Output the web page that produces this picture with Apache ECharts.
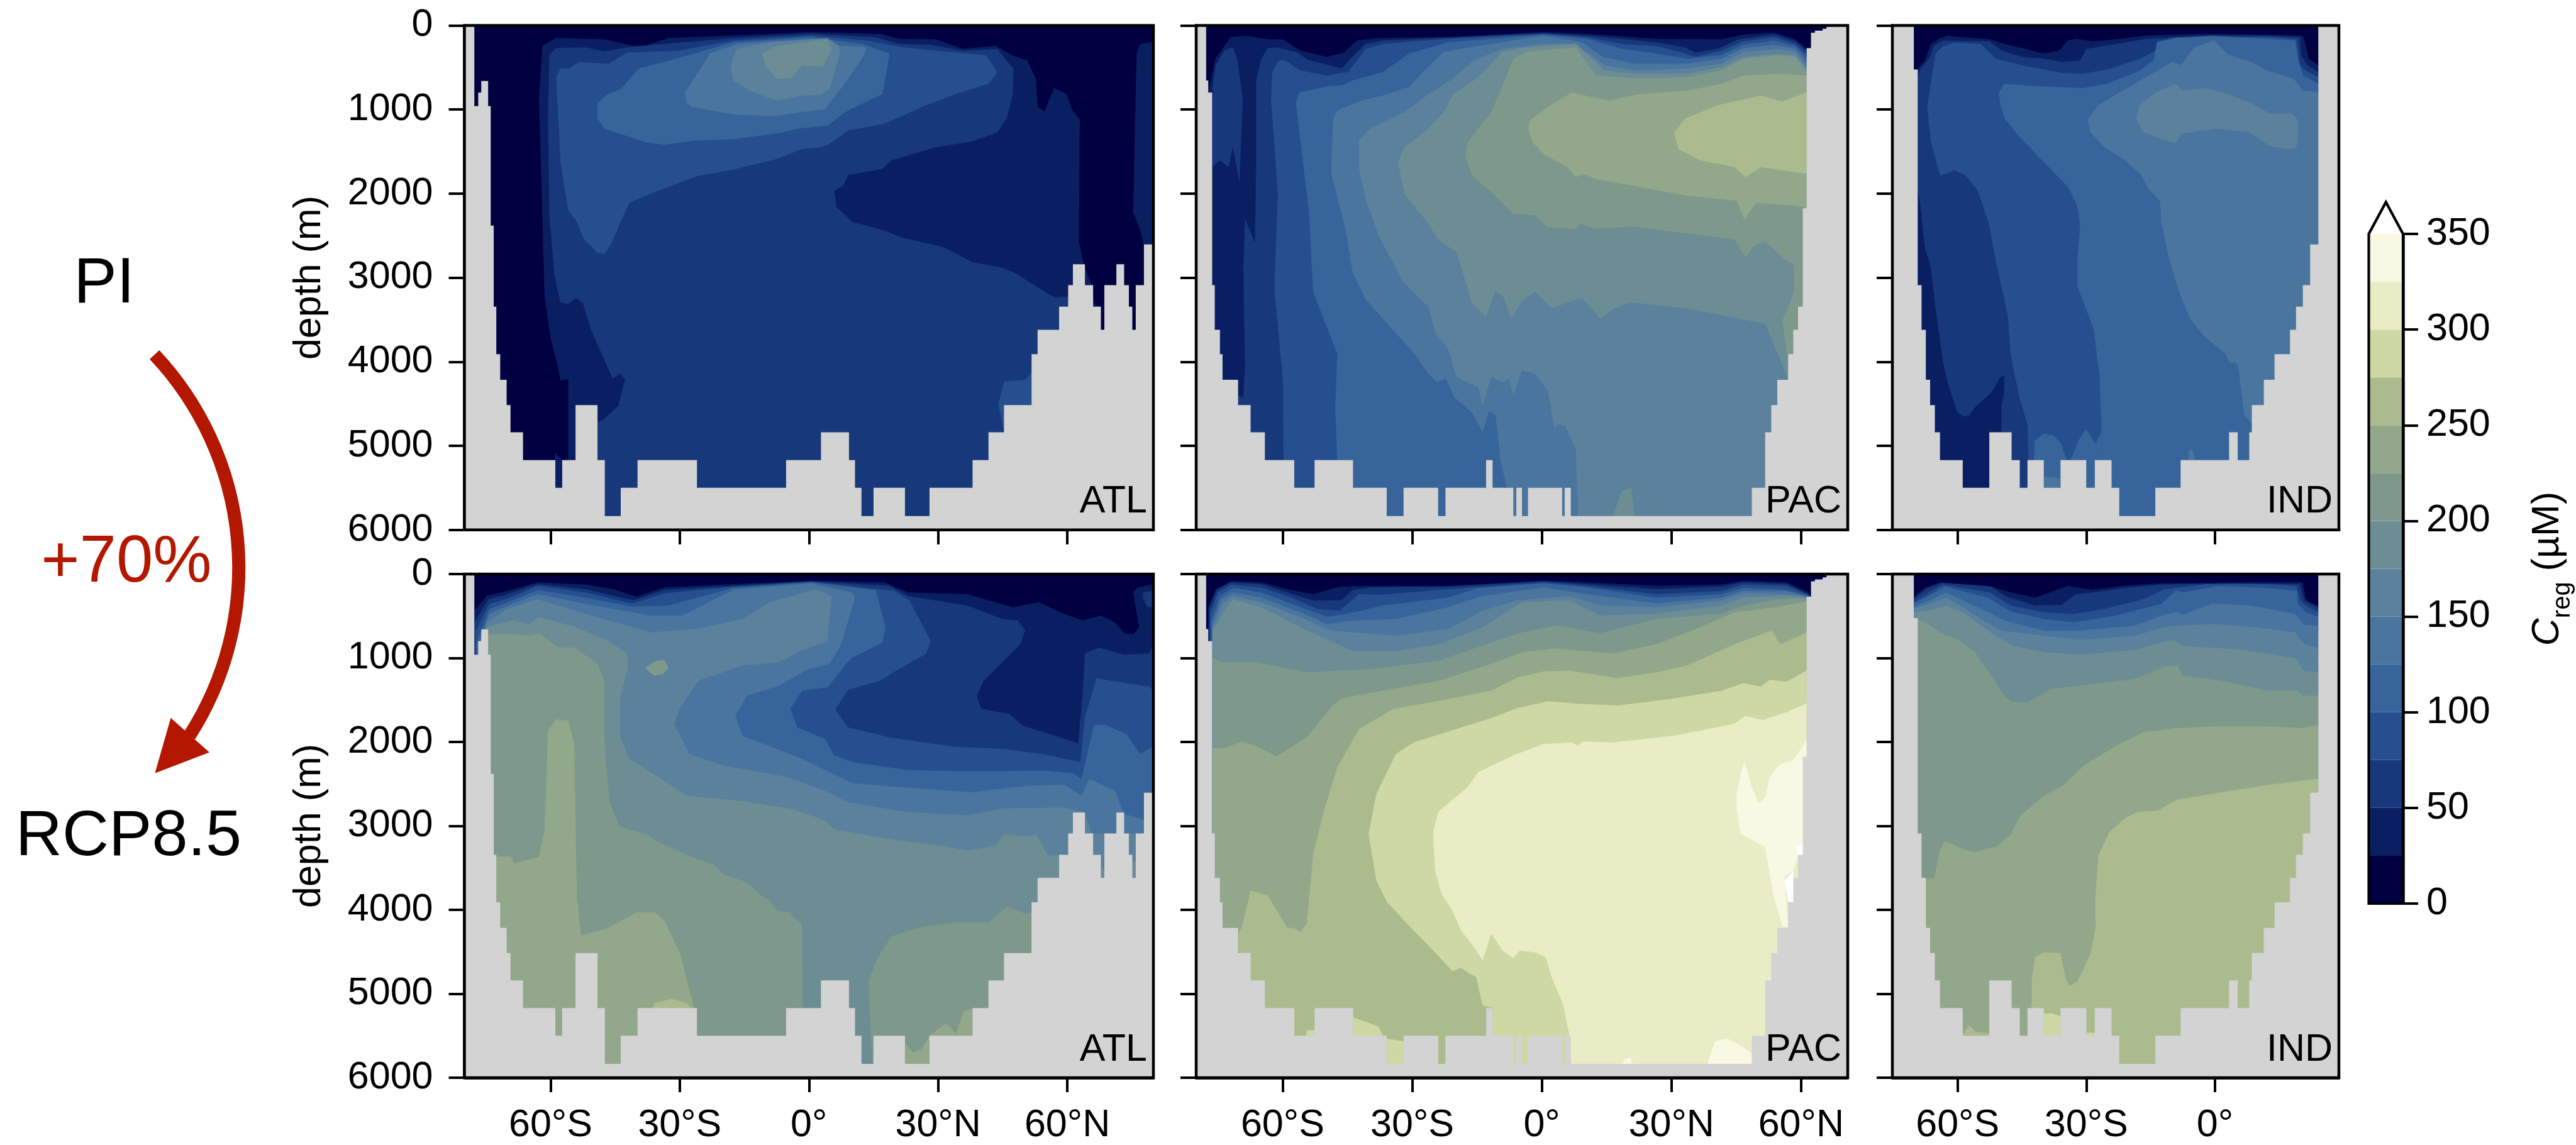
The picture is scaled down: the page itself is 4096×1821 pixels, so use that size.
<!DOCTYPE html>
<html><head><meta charset="utf-8">
<style>html,body{margin:0;padding:0;background:#fff}#c{width:4096px;height:1821px}</style>
<script src="https://cdn.jsdelivr.net/npm/echarts@6/dist/echarts.min.js"></script>
</head><body><div id="c"></div>
<script>
// Contour band colours for 0-25, 25-50 ... 325-350, and >350 µM
const bandColors = ['#010142','#0a1f61','#17387a','#264f8f','#37659b','#4a759e','#5c819c','#6c8d94','#7e998b','#93a88a','#acbb8e','#ced8a4','#e9edc5','#f8f8e3','#ffffff'];
const bandStep = 25;
const colorbarTicks = [0,50,100,150,200,250,300,350];
const latTicksFull = [-60,-30,0,30,60];
const latTicksInd = [-60,-30,0];
const latRangeAtl = [-80,80], latRangePac = [-80,70.8], latRangeInd = [-75.2,28.9];

// Sea-floor outlines [lat, depth]
const floorAtl = [[-80,0],[-77.7,0],[-77.7,960],[-76.8,960],[-76.8,800],[-76.1,800],[-76.1,660],[-74.5,660],[-74.5,960],[-73.9,960],[-73.9,2380],[-73.2,2380],[-73.2,3345],[-72.6,3345],[-72.6,3910],[-71.7,3910],[-71.7,4215],[-70.2,4215],[-70.2,4515],[-69.3,4515],[-69.3,4840],[-66.4,4840],[-66.4,5170],[-58.9,5170],[-58.9,5500],[-57.3,5500],[-57.3,5170],[-54.2,5170],[-54.2,4515],[-49.1,4515],[-49.1,5170],[-47.4,5170],[-47.4,5835],[-43.7,5835],[-43.7,5500],[-39.8,5500],[-39.8,5170],[-26,5170],[-26,5500],[-5.3,5500],[-5.3,5170],[2.8,5170],[2.8,4840],[9.3,4840],[9.3,5170],[10.7,5170],[10.7,5500],[12.2,5500],[12.2,5835],[15,5835],[15,5500],[22.3,5500],[22.3,5835],[28,5835],[28,5500],[38,5500],[38,5170],[41.7,5170],[41.7,4840],[45.3,4840],[45.3,4515],[51.7,4515],[51.7,3910],[53.1,3910],[53.1,3620],[58.1,3620],[58.1,3345],[60.2,3345],[60.2,3090],[61.3,3090],[61.3,2840],[64.1,2840],[64.1,3090],[66,3090],[66,3345],[67.8,3345],[67.8,3620],[68.6,3620],[68.6,3090],[71.4,3090],[71.4,2840],[73.2,2840],[73.2,3090],[74.3,3090],[74.3,3345],[75.1,3345],[75.1,3620],[75.9,3620],[75.9,3090],[77.8,3090],[77.8,2605],[80,2605],[80,6000],[-80,6000]];
const floorPac = [[-80,0],[-77.7,0],[-77.7,655],[-77.2,655],[-77.2,800],[-76.3,800],[-76.3,3090],[-75.7,3090],[-75.7,3620],[-74.5,3620],[-74.5,3910],[-73.9,3910],[-73.9,4215],[-70.3,4215],[-70.3,4515],[-67.4,4515],[-67.4,4840],[-64.1,4840],[-64.1,5170],[-57.3,5170],[-57.3,5500],[-52.6,5500],[-52.6,5170],[-43.7,5170],[-43.7,5500],[-35.9,5500],[-35.9,5835],[-32,5835],[-32,5500],[-24,5500],[-24,5835],[-22.3,5835],[-22.3,5500],[-12.9,5500],[-12.9,5170],[-11.4,5170],[-11.4,5500],[-6.6,5500],[-6.6,5835],[-5.9,5835],[-5.9,5500],[-4.6,5500],[-4.6,5835],[-3.2,5835],[-3.2,5500],[4.7,5500],[4.7,5835],[5.3,5835],[5.3,5500],[6.7,5500],[6.7,5835],[48.6,5835],[48.6,5500],[51.7,5500],[51.7,4840],[53.1,4840],[53.1,4515],[54.5,4515],[54.5,4215],[57,4215],[57,3910],[58.2,3910],[58.2,3620],[59.3,3620],[59.3,3345],[60.4,3345],[60.4,2175],[61.3,2175],[61.3,270],[62.3,270],[62.3,87],[63.2,87],[63.2,63],[65,63],[65,40],[65.9,40],[65.9,0],[70.8,0],[70.8,6000],[-80,6000]];
const floorInd = [[-75.2,0],[-70.2,0],[-70.2,525],[-69.3,525],[-69.3,3090],[-68.4,3090],[-68.4,3620],[-67.4,3620],[-67.4,4215],[-66.4,4215],[-66.4,4515],[-65.3,4515],[-65.3,4840],[-64.1,4840],[-64.1,5170],[-58.8,5170],[-58.8,5500],[-52.6,5500],[-52.6,4840],[-47.4,4840],[-47.4,5170],[-45.5,5170],[-45.5,5500],[-43.7,5500],[-43.7,5170],[-39.9,5170],[-39.9,5500],[-36,5500],[-36,5170],[-30,5170],[-30,5500],[-28,5500],[-28,5170],[-24.1,5170],[-24.1,5500],[-22.3,5500],[-22.3,5835],[-13.9,5835],[-13.9,5500],[-8,5500],[-8,5170],[3.3,5170],[3.3,4840],[5.3,4840],[5.3,5170],[8,5170],[8,4840],[8.6,4840],[8.6,4515],[11.4,4515],[11.4,4215],[13.9,4215],[13.9,3910],[17.5,3910],[17.5,3620],[18.9,3620],[18.9,3345],[20.5,3345],[20.5,3090],[22.2,3090],[22.2,2605],[24.1,2605],[24.1,0],[28.9,0],[28.9,6000],[-75.2,6000]];

// Filled contour regions, painted in order: [band, [[lat, depth], ...]]
const atlPi = [
[1,[[-61.9,240],[-58.7,150],[-47.5,165],[-41.1,240],[-37.9,240],[-32.6,150],[-17.6,120],[0.5,80],[16.6,100],[20.8,160],[29.4,165],[35.8,280],[43.3,240],[47,350],[50.7,415],[52.7,635],[53.1,970],[54.7,1025],[56.9,745],[59.8,815],[61.2,1010],[62.9,1120],[62.7,2580],[63.8,2840],[65.7,3090],[66.2,3315],[67.8,3345],[67.8,6000],[-55.9,6000],[-55.9,4205],[-57.7,4225],[-58.2,4085],[-60.1,3690],[-61.4,3215],[-61.9,2260],[-62.7,875]]],
[1,[[76.9,220],[79.6,200],[80,200],[80,2620],[77.8,2620],[77.1,2460],[75.3,2220],[76.1,335]]],
[1,[[-59,5080],[-57.3,5170],[-57.3,5500],[-58.9,5500]]],
[2,[[-60.3,355],[-58.7,270],[-51.8,260],[-47.5,310],[-42.2,260],[-33.6,220],[-17.6,150],[0.5,100],[15.5,140],[20.8,220],[28.3,230],[35.8,300],[43.8,280],[45.2,375],[47.5,515],[47.3,835],[45.9,1110],[43.8,1270],[37.9,1380],[29.4,1450],[19.2,1605],[17.1,1705],[9.1,1780],[8,1905],[5.9,1965],[6.4,2160],[8.5,2260],[10.1,2340],[17.6,2440],[21.4,2520],[31.5,2640],[37.9,2815],[44.3,2875],[47.5,2935],[55,3175],[57.1,3235],[60.3,3225],[60.3,6000],[-49.1,6000],[-49.1,4720],[-47.5,4680],[-44.3,4525],[-42.7,4215],[-43.8,4140],[-45.6,4200],[-48.1,3910],[-50.7,3610],[-52.5,3300],[-54.1,3240],[-55.9,3315],[-57.7,3295],[-59.1,2975],[-60.3,2260],[-60.6,1070]]],
[3,[[-58.7,615],[-57.7,510],[-55.9,515],[-53.4,435],[-46.5,455],[-42.2,325],[-30.4,300],[-17.6,180],[0.5,120],[13.4,180],[21.9,260],[29.4,300],[41.1,355],[43.8,555],[41.7,695],[34.2,815],[27.2,950],[17.6,1170],[9.1,1250],[4.8,1410],[2.7,1450],[-1.6,1470],[-7.5,1590],[-17.6,1715],[-26.2,1795],[-37.9,2025],[-41.7,2110],[-43.8,2340],[-45.9,2600],[-47.5,2720],[-49.1,2705],[-52.3,2540],[-53.9,2340],[-55.9,2200],[-57.7,1625]]],
[3,[[45.3,4235],[50.2,4215],[51.7,4125],[51.7,4525],[45.3,4840],[44,4505]]],
[4,[[-49.1,930],[-47,825],[-43.8,760],[-39.5,515],[-29.4,375],[-17.6,200],[0.5,140],[12.3,220],[18.7,335],[17.1,815],[9.1,1010],[4.3,1190],[-2.7,1230],[-6.9,1280],[-17.6,1355],[-26.2,1370],[-33.6,1420],[-37.9,1390],[-47.5,1230],[-49.1,1110]]],
[5,[[-28.8,800],[-23,335],[-16.6,220],[0.5,160],[6.9,240],[13.4,260],[12.8,355],[8,715],[3.7,1000],[-1.6,1030],[-8,1080],[-17.6,1060],[-27.2,970],[-28.3,930]]],
[6,[[-18.2,475],[-16.8,280],[-9.1,200],[4.3,150],[6.9,240],[7.2,335],[4.8,755],[2.7,825],[-1.6,835],[-7.5,895],[-13.4,785],[-17.6,655]]],
[7,[[-10.9,335],[-7.5,245],[4.3,165],[5.3,280],[3.2,495],[-1.6,475],[-4.3,635],[-7.5,635],[-10.1,475]]]
];
const pacPi = [
[1,[[-77.2,800],[-75.5,395],[-72,140],[-68.4,125],[-63.4,165],[-59.9,165],[-55.9,300],[-49.8,375],[-45.8,325],[-42.8,180],[-37.8,150],[-21.7,140],[0.4,80],[10.5,100],[26.5,160],[41.6,165],[46.6,110],[53.7,85],[58.7,165],[61.3,280],[61.3,6000],[-77.2,6000]]],
[2,[[-76.2,735],[-75.5,475],[-73.5,300],[-71.5,260],[-70.5,395],[-69.2,875],[-70,1865],[-71.5,1450],[-72.5,1685],[-74.5,1605],[-76.2,1685]]],
[2,[[-66.1,635],[-64.9,395],[-63.4,270],[-61.4,260],[-56.9,315],[-53.9,415],[-46.3,510],[-44.3,395],[-40.8,220],[-36.8,180],[-21.7,145],[0.4,90],[10.5,120],[26.5,200],[33.1,260],[35.6,325],[40.6,280],[45.6,165],[53.7,110],[58.7,190],[61.3,300],[61.3,6000],[-70.3,6000],[-70.3,4405],[-69.1,4425],[-68.7,4085],[-69.1,2895],[-68.7,2300],[-66.4,2580],[-66.1,1625]]],
[3,[[-62.4,555],[-60.9,415],[-59.4,415],[-55.9,535],[-49.8,595],[-44.8,555],[-40.8,280],[-36.8,220],[-21.7,160],[0.4,100],[10.5,140],[18.5,220],[26.5,245],[32.6,325],[35.6,375],[41.6,300],[46.6,190],[53.7,140],[58.7,220],[61.3,335],[61.3,6000],[-59.7,6000],[-59.9,4245],[-61.9,3135],[-61.1,1985],[-62.7,875]]],
[4,[[-56.1,795],[-53.9,775],[-49.3,720],[-46.3,715],[-43.8,655],[-36.8,555],[-30.8,335],[-21.7,200],[0.4,110],[10.5,160],[18.5,280],[26.5,335],[33.6,395],[41.6,350],[46.6,230],[53.7,180],[58.7,245],[61.3,375],[61.3,6000],[-46.8,6000],[-47.8,4525],[-47.3,3910],[-52.9,3175],[-53.9,2220],[-56.9,930]]],
[5,[[-48.3,1110],[-47.3,1010],[-41.8,895],[-36.8,835],[-30.8,735],[-26.7,515],[-22.7,315],[-11.7,220],[0.4,125],[9.4,200],[14,375],[21.5,455],[33.6,455],[41.6,395],[46.6,270],[53.7,230],[58.7,280],[61.3,435],[61.3,6000],[-8.1,6000],[-8.1,5500],[-9.6,5165],[-10.7,4640],[-12.2,4585],[-13.7,4840],[-16.2,4600],[-20.2,4425],[-22.2,4200],[-24.2,4245],[-26.2,4145],[-29.7,3890],[-36.8,3490],[-40.8,3255],[-43.8,2935],[-45.3,2460],[-48.8,1745]]],
[6,[[-42.3,1370],[-39.8,1230],[-31.8,1030],[-26.7,835],[-20.7,635],[-15.7,415],[-9.1,280],[0.4,220],[7.4,220],[11.5,355],[14.5,475],[21.5,535],[33.6,515],[41.6,455],[46.6,315],[54.7,280],[58.7,315],[61.3,495],[61.3,6000],[8.4,6000],[7.9,5040],[5.4,4760],[3.9,4740],[2.9,4795],[1.4,4345],[-1.6,4145],[-4.6,4105],[-6.6,4395],[-7.6,4205],[-9.1,4245],[-11.7,4175],[-13.7,4525],[-14.7,4305],[-19.7,4185],[-21.7,3850],[-24.7,3650],[-26.2,3355],[-32,3055],[-37.8,2500],[-40.8,2065],[-42.3,1705]]],
[7,[[-33.3,1625],[-31.8,1450],[-26.7,1250],[-22.7,1030],[-20.5,815],[-14.7,615],[-9.1,315],[-3.6,260],[7.9,220],[11.5,395],[14.5,535],[21.5,575],[33.6,575],[41.6,495],[46.6,375],[54.7,335],[58.7,355],[61.3,515],[61.3,4205],[57,4205],[51.7,3550],[33.6,3365],[20.5,3295],[16.5,3370],[13.5,3490],[9.4,3245],[6.4,3285],[2.4,3365],[-1.6,3165],[-4.6,3275],[-7.1,3490],[-8.8,3235],[-10.7,3155],[-12.9,3465],[-14.7,3375],[-16.2,3295],[-19.7,2700],[-24.2,2540],[-26.2,2360],[-31.8,2005]]],
[7,[[16.5,5835],[18.5,5535],[20.7,5495],[21.5,5835]]],
[8,[[-17.7,1545],[-17.2,1390],[-11.7,1030],[-8.6,655],[-6.6,395],[-3.6,315],[7.9,260],[12.5,595],[22.5,635],[33.6,615],[41.6,535],[46.6,395],[54.7,355],[58.7,375],[61.3,555],[61.3,3910],[56.7,3910],[55.7,3510],[58.4,3175],[58.2,2835],[56.2,2780],[51.7,2570],[49.1,2620],[47.1,2760],[44.6,2545],[21,2390],[12.5,2420],[8.9,2360],[7.9,2420],[1.4,2400],[-1.6,2260],[-6.6,2240],[-11.7,1985],[-16.2,1785]]],
[9,[[-3.1,1250],[-2.8,1130],[1.4,970],[6.9,800],[15.5,895],[22.5,815],[33.6,775],[41.6,695],[46.6,595],[54.7,575],[61.3,595],[61.3,2175],[58.7,2145],[49.6,2110],[46.9,2310],[45.1,2085],[33.6,2025],[12.5,1825],[9.4,1765],[7.9,1805],[5.9,1685],[0.4,1530],[-2.1,1390]]],
[10,[[30.6,1280],[33.1,1110],[40.6,950],[50.7,835],[55.7,905],[61.3,795],[61.3,1765],[50.7,1685],[47.1,1805],[44.6,1685],[36.6,1605],[31.6,1470]]]
];
const indPi = [
[1,[[-70.2,600],[-69.3,515],[-67.6,415],[-66.2,220],[-64.1,150],[-62.3,125],[-52.5,165],[-48.3,230],[-44.1,280],[-39.9,335],[-36.4,300],[-34.3,180],[-32.2,160],[-28.6,190],[-23,165],[-16,120],[-2,100],[12.1,110],[20.5,125],[21.2,240],[21.9,395],[24.1,475],[24.1,6000],[-70.2,6000]]],
[2,[[-69.3,595],[-68.7,515],[-66.6,395],[-65.5,240],[-63.4,180],[-52.5,190],[-49.7,300],[-44.8,375],[-39.9,395],[-35.7,435],[-31.4,415],[-30,280],[-23,220],[-16,160],[-2,120],[12.1,125],[19.8,140],[20.1,355],[21.6,475],[24.1,555],[24.1,6000],[-49.8,6000],[-49.8,4525],[-49.1,4365],[-49.1,4160],[-50,4185],[-52.1,4365],[-56,4545],[-57.3,4640],[-58.8,4650],[-60.2,4585],[-62.3,4245],[-63.4,4010],[-65.1,3370],[-66.4,2835],[-67.6,2660],[-68.7,2145],[-69.3,1945]]],
[3,[[-67.1,970],[-65.8,535],[-65.1,335],[-63.4,245],[-60.6,205],[-54.6,220],[-51.1,395],[-44.8,475],[-35.7,565],[-30.7,575],[-24.4,515],[-17.4,395],[-13.9,300],[-13.5,190],[-9,140],[12.1,140],[19.1,165],[19.8,475],[21.2,535],[24.1,615],[24.1,6000],[-43,6000],[-43.7,4740],[-45.5,4445],[-47.6,3930],[-48.3,3450],[-49.3,3215],[-51.1,2800],[-52.8,2340],[-55.3,1965],[-58.1,1785],[-60.8,1720],[-62.7,1765],[-64.1,1780],[-66.2,1390]]],
[4,[[-50.4,800],[-49.1,695],[-42.7,720],[-30.7,745],[-25.1,695],[-17.4,535],[-14.3,415],[-13.5,200],[-9,150],[-0.6,125],[12.1,160],[18.7,180],[19.2,355],[20.5,595],[24.1,695],[24.1,6000],[-26.4,6000],[-26.4,4840],[-26.9,4165],[-28.3,3610],[-32.1,3095],[-32.1,2815],[-31.4,2380],[-32.1,2145],[-34.2,1925],[-39.9,1625],[-46.2,1290],[-49,1110],[-50,950]]],
[4,[[-26.4,6000],[-42.2,6000],[-42.2,5165],[-42,4940],[-39.9,4855],[-37.8,4875],[-36,4960],[-34.6,5165],[-33.6,5165],[-31.8,4935],[-30,4800],[-27.9,4975],[-26.4,4840]]],
[5,[[-29.7,1120],[-27.2,950],[-22.3,800],[-17.4,655],[-10,435],[-7.9,470],[-4.8,260],[-0.2,180],[3.3,355],[8.6,435],[12.1,535],[18.4,635],[20.5,775],[24.1,795],[24.1,6000],[8.6,6000],[8.6,4740],[6.8,4625],[5.4,4040],[4.4,4010],[3.3,4010],[2.6,3910],[-2.7,3690],[-5.8,3490],[-8.3,3175],[-10.7,2780],[-12.5,2340],[-12.8,2085],[-15.6,1935],[-17.1,1785],[-20.9,1605],[-25.8,1450],[-29,1270]]],
[5,[[-39.9,5365],[-36.2,5385],[-36.2,5500],[-39.9,5500]]],
[5,[[-6.2,5165],[-6,5060],[-5.3,5040],[-4.6,5165]]],
[6,[[-18.3,1120],[-17.6,950],[-13.9,800],[-9,695],[-7.6,775],[-2,745],[2.9,815],[8.6,930],[12.8,1050],[17.7,1050],[19.1,1110],[19.4,1270],[19,1450],[17.3,1475],[12.8,1435],[7.9,1270],[0.1,1230],[-7.9,1290],[-9,1400],[-12.5,1355],[-16.7,1270]]]
];
const atlRcp = [
[1,[[-77.7,435],[-74.8,260],[-70,200],[-63,100],[-51.8,125],[-45.4,180],[-40,270],[-33.6,160],[-17.6,120],[0.5,80],[17.6,100],[23,220],[36.8,240],[43.3,335],[47.5,395],[53.4,335],[59.3,475],[63.5,550],[67.8,495],[71,575],[73.2,705],[75.3,720],[76.7,635],[75.3,220],[76.4,160],[80,120],[80,6000],[-77.7,6000]]],
[2,[[-77.7,575],[-74.4,300],[-70,240],[-63,120],[-51.8,180],[-45.4,260],[-40.6,310],[-33.6,190],[-17.6,140],[0.5,85],[18.7,140],[23,260],[36.8,375],[44.9,535],[48.6,555],[50.2,675],[49.1,835],[40.6,1270],[39,1450],[40,1605],[46.5,1665],[49.7,1805],[57.7,1935],[62.5,2015],[63.5,1470],[64.1,945],[67.3,875],[73.2,960],[79,945],[80,835],[80,6000],[-77.7,6000]]],
[2,[[77.6,220],[79.6,200],[80,395],[78.5,390],[77.6,280]]],
[3,[[-77.4,675],[-74.2,355],[-69.4,280],[-63,140],[-51.8,220],[-41.1,350],[-33.6,230],[-17.6,150],[0.5,90],[19.8,200],[23.3,315],[28.3,795],[27.2,950],[20.3,1150],[16.6,1270],[9.1,1380],[6.1,1615],[9.1,1825],[18.7,1945],[33.6,2055],[45.4,2085],[55,2150],[63,2240],[64.1,1705],[66.8,1240],[70,1270],[79,1340],[80,1390],[80,6000],[-77.4,6000]]],
[4,[[-77.2,815],[-74.2,415],[-68.9,315],[-63,190],[-51.8,280],[-41.1,390],[-32.6,375],[-17.6,165],[0.5,100],[15.5,190],[17.8,635],[17.1,815],[9.6,1010],[4.3,1350],[-1.6,1390],[-4.3,1605],[-2.7,1825],[3.7,1965],[5.9,2160],[10.1,2240],[23,2335],[37.9,2350],[55,2340],[61.4,2375],[63.3,2440],[66.2,1800],[68.9,1800],[73.7,1905],[76.9,2145],[80,2055],[80,6000],[-77.2,6000]]],
[5,[[-76.9,875],[-74.2,470],[-68.9,355],[-63,240],[-51.8,355],[-36.8,495],[-29.4,495],[-17.6,190],[0.5,110],[10.1,220],[10.7,280],[7.5,835],[4.8,1070],[-0.5,1140],[-6.9,1330],[-14.4,1450],[-17.1,1685],[-15.5,1925],[-1.6,2200],[4.8,2360],[10.1,2490],[23,2545],[37.9,2600],[50.7,2520],[59.3,2510],[63.3,2640],[65.1,2440],[71,2580],[73.2,2855],[78,2930],[80,2930],[80,6000],[-76.9,6000]]],
[6,[[-76.4,930],[-74.8,575],[-70,415],[-63,300],[-51.8,475],[-36.8,695],[-26.2,655],[-15.5,535],[-9.1,335],[1.6,180],[5.3,260],[4.3,795],[-1.6,910],[-6.9,1050],[-15.5,1090],[-25.6,1270],[-29.9,1590],[-31.3,1785],[-27.8,2145],[-19.8,2280],[-4.8,2420],[3.7,2580],[9.1,2720],[23,2835],[36.8,2875],[45.4,2790],[59.3,2780],[64.1,2840],[65.7,3090],[75.9,3090],[75.9,6000],[-76.4,6000]]],
[7,[[-74.8,635],[-68.9,550],[-65.1,595],[-62.5,515],[-53.9,635],[-46.5,800],[-42.2,950],[-42,1110],[-43.8,1470],[-43.8,1945],[-41.7,2200],[-37.9,2320],[-28.3,2640],[-15.5,2705],[-3.7,2800],[3.7,2935],[5.9,3045],[18.7,3155],[32,3245],[36.8,3295],[43.3,3235],[45.4,3095],[49.7,3125],[52.9,3105],[55.5,3355],[59.3,3345],[59.3,6000],[-74.8,6000]]],
[7,[[67.5,3510],[68.6,3510],[68.6,3620],[67.5,3620]]],
[7,[[75,3420],[76,3420],[76,3620],[75,3620]]],
[8,[[-74.8,720],[-68.9,715],[-64.6,735],[-62.7,705],[-58.2,875],[-54.5,875],[-49.1,1070],[-47.5,1270],[-47.5,1905],[-47,2340],[-46.2,2740],[-43.8,3015],[-37.9,3095],[-35.8,3175],[-27.2,3370],[-21.9,3470],[-19.8,3580],[-14.4,3670],[-11.2,3830],[-9.1,3890],[-7.5,4010],[-4.3,4030],[-3.7,4085],[-1.6,4165],[-1.4,6000],[-74.8,6000]]],
[8,[[13.9,4840],[16,4565],[19.2,4315],[26.2,4205],[34.2,4150],[41.7,4150],[45.9,3960],[50.2,4045],[52.3,4030],[52.3,6000],[15,6000],[14.4,5515]]],
[8,[[-38.1,1120],[-35.8,1040],[-33.6,1020],[-32.6,1120],[-33.9,1190],[-36,1210]]],
[9,[[-73.2,3370],[-69.4,3360],[-68.4,3445],[-62.7,3370],[-61.4,3055],[-60.6,1865],[-58.7,1730],[-55.9,1745],[-54.5,2025],[-53.9,3850],[-52.9,4305],[-47,4225],[-40,4030],[-35.8,4030],[-33.6,4125],[-29.9,4525],[-26.7,5165],[-26.2,6000],[-73.2,6000]]],
[9,[[22.3,5595],[24.2,5700],[26.2,5655],[28,5500],[31.8,5350],[34.2,5475],[35.8,5220],[38,5170],[38,5500],[28,5835],[22.3,5835]]],
[10,[[-36.3,5170],[-35.8,5110],[-32,5060],[-28.3,5110],[-27.4,5170]]]
];
const pacRcp = [
[1,[[-77.2,395],[-75.5,180],[-72,85],[-64.9,100],[-58.9,180],[-52.9,240],[-46.8,150],[-40.8,140],[-21.7,140],[0.4,80],[10.5,100],[26.5,140],[41.6,125],[46.6,80],[56.7,100],[61.7,220],[62.2,270],[62.2,6000],[-77.2,6000]]],
[2,[[-77,420],[-75.2,190],[-72,100],[-64.9,120],[-58.9,220],[-52.9,315],[-46.3,310],[-43.8,190],[-39.8,160],[-21.7,150],[0.4,85],[10.5,120],[26.5,180],[41.6,150],[46.6,100],[56.7,120],[61.7,240],[62.2,270],[62.2,6000],[-77,6000]]],
[3,[[-76.8,475],[-75,220],[-72,125],[-64.9,160],[-57.9,280],[-51.9,415],[-46.8,435],[-42.3,240],[-36.8,245],[-21.7,180],[0.4,100],[10.5,140],[26.5,240],[41.6,200],[46.6,125],[56.7,140],[61.7,245],[62.2,270],[62.2,6000],[-76.8,6000]]],
[4,[[-76.5,555],[-74.5,260],[-71.5,165],[-64.9,220],[-56.9,375],[-49.8,510],[-45.3,475],[-36.8,375],[-21.7,280],[-14.7,165],[0.4,110],[10.5,160],[26.5,280],[41.6,240],[46.6,165],[56.7,190],[61.7,260],[62.2,270],[62.2,6000],[-76.5,6000]]],
[5,[[-76.3,590],[-74.2,300],[-71.5,220],[-64.9,280],[-54.9,475],[-49.8,595],[-43.8,555],[-33.8,535],[-21.7,395],[-13.7,260],[0.4,160],[10.5,240],[26.5,350],[41.6,280],[46.6,200],[56.7,205],[61.7,270],[61.7,6000],[-76.3,6000]]],
[6,[[-76.2,640],[-74,355],[-71.5,260],[-64.9,335],[-54.9,535],[-48.8,675],[-33.8,735],[-21.7,655],[-13.7,435],[-5.6,315],[6.4,260],[13.5,375],[26.5,395],[41.6,315],[46.6,230],[56.7,240],[61.7,270],[61.7,6000],[-76.2,6000]]],
[7,[[-76.2,680],[-73,395],[-71.5,300],[-64.9,395],[-54.9,655],[-43.8,920],[-33.8,920],[-23.7,835],[-13.7,635],[-4.6,335],[6.4,310],[13.5,495],[26.5,470],[41.6,375],[46.6,280],[56.7,260],[61.7,280],[61.7,6000],[-76.2,6000]]],
[8,[[-76.2,990],[-74,1050],[-65.9,1050],[-54.4,1170],[-38.8,1130],[-23.7,1030],[-11.7,815],[-4.6,695],[3.4,615],[13.5,705],[26.5,535],[41.6,470],[46.6,375],[54.7,300],[61.7,290],[61.7,6000],[-76.2,6000]]],
[9,[[-76.2,2075],[-73.5,2075],[-69.4,1995],[-66.4,2045],[-61.4,2170],[-54.4,1945],[-48.8,1590],[-46.3,1480],[-36.8,1390],[-23.7,1270],[-11.7,1070],[-4.6,930],[3.4,885],[16.5,945],[26.5,835],[36.6,635],[44.6,455],[54.7,390],[61.7,325],[61.7,6000],[-76.2,6000]]],
[10,[[-70.2,4285],[-69.4,4205],[-67.4,3770],[-63.4,3830],[-58.9,4215],[-57.4,4215],[-55.9,4265],[-54.4,4165],[-52.9,3335],[-50.4,2815],[-47.3,2300],[-42.3,1845],[-34.3,1605],[-23.7,1510],[-11.7,1390],[-5.6,1230],[0.4,1160],[6.4,1150],[17.5,1240],[26.5,1170],[33.6,1090],[44.6,835],[53.2,675],[55.2,835],[61.3,695],[61.3,6000],[-70.2,6000]]],
[11,[[-11.4,6000],[-11.4,5165],[-13.7,5140],[-15.2,4800],[-16.7,4760],[-18.7,4690],[-20.7,4730],[-26.2,4425],[-29.7,4245],[-35.8,3910],[-38.3,3650],[-40.1,3095],[-38.3,2620],[-33.8,2145],[-29.7,2005],[-11.7,1715],[-5.6,1595],[1.4,1515],[8.4,1545],[17.5,1565],[29.5,1490],[41.6,1390],[46.6,1300],[50.7,1340],[52.7,1260],[56.7,1280],[61.3,1150],[61.3,6000]]],
[11,[[-43.7,5280],[-37.8,5390],[-36.8,5500],[-43.7,5500]]],
[11,[[-35.9,5535],[-32,5565],[-32,5835],[-35.9,5835]]],
[11,[[-54.4,5435],[-52.6,5435],[-52.6,5500],[-54.6,5500]]],
[12,[[6.9,6000],[6.4,5500],[4.9,5120],[2.4,4820],[0.9,4565],[-1.6,4505],[-5.1,4485],[-6.6,4575],[-9.1,4485],[-11.7,4285],[-13.7,4600],[-15.7,4445],[-18.7,4245],[-20.7,4010],[-23.2,3810],[-24.7,3530],[-25.2,3095],[-24,2835],[-17.2,2540],[-14.7,2360],[-6.6,2160],[0.4,2025],[6.9,2005],[8.4,2045],[9.4,1995],[16.5,2005],[30.6,1925],[44.6,1785],[47.1,1690],[51.2,1740],[56.7,1645],[61.3,1540],[61.3,6000]]],
[13,[[45.1,2610],[46.1,2360],[46.9,2230],[48.6,2540],[50.2,2730],[51.7,2660],[52.7,2420],[55.2,2260],[58.2,2220],[61.3,1975],[61.3,3365],[59.2,3365],[58.2,3530],[56.2,3610],[57,4205],[55.7,4200],[53.7,3850],[51.7,3255],[45.9,3090],[45.1,2780]]],
[14,[[58.7,3255],[60.4,3215],[60.4,3345],[59.3,3345]]],
[14,[[56.2,3650],[58.2,3530],[58.2,3910],[57,3910]]],
[13,[[38.3,5835],[40.1,5565],[42.8,5530],[46.6,5635],[48.6,5715],[48.6,5835]]],
[13,[[18.7,5835],[19.2,5775],[20.5,5760],[20.9,5835]]]
];
const indRcp = [
[1,[[-70.3,280],[-67.6,160],[-64.1,100],[-52.5,140],[-49,200],[-42,280],[-34.2,140],[-28.6,190],[-21.6,140],[-12.5,110],[5.1,100],[20.5,100],[21.1,280],[21.9,335],[24.1,375],[24.1,6000],[-70.3,6000]]],
[2,[[-70.3,300],[-67.3,180],[-63.7,105],[-52.2,150],[-49,260],[-42,375],[-35.7,365],[-32.5,240],[-28.6,220],[-20.9,165],[-12.5,125],[5.1,110],[19.8,120],[20.8,315],[24.1,405],[24.1,6000],[-70.3,6000]]],
[3,[[-70.3,335],[-66.6,220],[-63.4,125],[-52.5,220],[-47.6,375],[-39.9,455],[-32.9,475],[-25.8,415],[-16.7,300],[-11.8,180],[-2,120],[12.1,120],[19.1,140],[19.9,315],[21.2,375],[24.1,455],[24.1,6000],[-70.3,6000]]],
[4,[[-70.3,355],[-66.2,245],[-63,150],[-52.9,280],[-47.6,445],[-39.9,535],[-32.9,575],[-23,495],[-12.5,355],[-9,190],[-7.6,220],[0.8,140],[12.1,165],[19.1,200],[19.4,355],[21.2,455],[24.1,510],[24.1,6000],[-70.3,6000]]],
[5,[[-70.3,395],[-66.6,315],[-62.7,220],[-55.3,395],[-49,555],[-39.9,675],[-31.4,675],[-18.8,615],[-11.8,485],[-9,455],[-7.6,485],[-0.6,350],[8.6,375],[18.7,475],[20.8,605],[24.1,615],[24.1,6000],[-70.3,6000]]],
[6,[[-70.3,415],[-66.6,355],[-62.7,280],[-58.8,395],[-54.6,535],[-49.7,675],[-39.9,735],[-31.4,785],[-18.8,735],[-11.8,635],[-9,615],[-0.6,595],[10,635],[18.7,695],[20.8,835],[24.1,880],[24.1,6000],[-70.3,6000]]],
[7,[[-70.3,455],[-66.6,435],[-62.7,375],[-58.8,455],[-51.8,715],[-46.9,855],[-39.9,930],[-31.4,960],[-18.8,905],[-11.8,800],[-9.3,785],[-7.6,855],[5.1,895],[12.1,945],[19.1,1010],[20.5,1150],[24.1,1170],[24.1,6000],[-70.3,6000]]],
[8,[[-70.3,515],[-68.7,555],[-66.6,605],[-64.1,695],[-59.2,800],[-56,930],[-53.2,1130],[-49,1460],[-47.2,1520],[-43.7,1530],[-38.5,1370],[-30,1320],[-18.8,1250],[-11.8,1105],[-8.6,1090],[-7.7,1210],[1.5,1270],[12.1,1390],[19.1,1390],[20.5,1450],[24.1,1450],[24.1,6000],[-70.3,6000]]],
[9,[[-68.4,3630],[-65.5,3630],[-64.2,3300],[-62.9,3180],[-58.8,3275],[-56,3315],[-52.5,3260],[-51.1,3255],[-47.6,3105],[-45.5,2885],[-39.9,2640],[-35.7,2530],[-30,2260],[-22.3,2025],[-16.7,1885],[-9,1835],[0.1,1815],[7.9,1815],[12.1,1815],[20.5,1835],[24.1,1795],[24.1,6000],[-68.4,6000]]],
[10,[[24.1,2440],[14.2,2500],[5.1,2570],[-9,2690],[-13.2,2815],[-18.1,2835],[-20.9,2905],[-24.6,3075],[-27.2,3355],[-27.9,3890],[-27.8,4205],[-29,4525],[-32,4850],[-33.9,4910],[-34.8,4820],[-36,4515],[-39.9,4505],[-42,4565],[-42.7,4840],[-42.8,6000],[24.1,6000]]],
[10,[[-58.8,5485],[-57.3,5375],[-55.8,5455],[-52.6,5470],[-52.6,5500],[-58.8,5500]]],
[11,[[-39.9,5240],[-38.1,5230],[-36,5270],[-36,5500],[-39.9,5500]]],
[11,[[-30,5465],[-28,5465],[-28,5500],[-30,5500]]]
];

const FONT = 'Liberation Sans, Helvetica, Arial, sans-serif';
const FS = 61, MASK = '#d3d3d3', INK = '#000';
const fmtLat = v => v === 0 ? '0°' : (v < 0 ? (-v) + '°S' : v + '°N');
const axisLineStyle = {show:true, onZero:false, lineStyle:{color:INK, width:4.5}};
const tickStyle = {width:4, color:INK};

const panels = [
 {name:'ATL', left:738.5, right:1834, top:40.4, bottom:842.7, range:latRangeAtl, ticks:latTicksFull, regions:atlPi, floor:floorAtl, yLab:true, xLab:false},
 {name:'PAC', left:1902, right:2938, top:40.4, bottom:842.7, range:latRangePac, ticks:latTicksFull, regions:pacPi, floor:floorPac, yLab:false, xLab:false},
 {name:'IND', left:3009, right:3719, top:40.4, bottom:842.7, range:latRangeInd, ticks:latTicksInd, regions:indPi, floor:floorInd, yLab:false, xLab:false},
 {name:'ATL', left:738.5, right:1834, top:913, bottom:1715, range:latRangeAtl, ticks:latTicksFull, regions:atlRcp, floor:floorAtl, yLab:true, xLab:true},
 {name:'PAC', left:1902, right:2938, top:913, bottom:1715, range:latRangePac, ticks:latTicksFull, regions:pacRcp, floor:floorPac, yLab:false, xLab:true},
 {name:'IND', left:3009, right:3719, top:913, bottom:1715, range:latRangeInd, ticks:latTicksInd, regions:indRcp, floor:floorInd, yLab:false, xLab:true}
];
const grids = [], xAxes = [], yAxes = [], series = [];
panels.forEach((p,i) => {
  grids.push({left:p.left, top:p.top, width:p.right-p.left, height:p.bottom-p.top});
  xAxes.push({type:'value', gridIndex:i, min:p.range[0], max:p.range[1], position:'bottom', splitLine:{show:false}, axisLine:axisLineStyle,
    axisTick:{show:true, length:23, lineStyle:tickStyle, customValues:p.ticks},
    axisLabel:{show:p.xLab, customValues:p.ticks, formatter:fmtLat, fontFamily:FONT, fontSize:FS, color:INK, margin:46}});
  yAxes.push({type:'value', gridIndex:i, inverse:true, min:0, max:6000, interval:1000, position:'left', splitLine:{show:false}, axisLine:axisLineStyle,
    axisTick:{show:true, length:25, lineStyle:tickStyle},
    axisLabel:{show:p.yLab, formatter:v=>String(v), fontFamily:FONT, fontSize:FS, color:INK, margin:50},
    name:p.yLab?'depth (m)':'', nameLocation:'middle', nameRotate:90, nameGap:216,
    nameTextStyle:{fontFamily:FONT, fontSize:FS, color:INK}});
  const paint = [[0,[[p.range[0],0],[p.range[1],0],[p.range[1],6000],[p.range[0],6000]]]].concat(p.regions);
  series.push({type:'custom', coordinateSystem:'cartesian2d', xAxisIndex:i, yAxisIndex:i, clip:true, silent:true, animation:false, z:2,
    data:paint.map((r,k)=>[k]),
    renderItem:(params,api)=>{ const r = paint[params.dataIndex];
      return {type:'polygon', shape:{points:r[1].map(q=>api.coord(q))}, style:{fill:bandColors[r[0]]}}; }});
  series.push({type:'custom', coordinateSystem:'cartesian2d', xAxisIndex:i, yAxisIndex:i, clip:true, silent:true, animation:false, z:3,
    data:[[0]],
    renderItem:(params,api)=>({type:'polygon', shape:{points:p.floor.map(q=>api.coord(q))}, style:{fill:MASK}})});
  series.push({type:'custom', coordinateSystem:'cartesian2d', xAxisIndex:i, yAxisIndex:i, clip:false, silent:true, animation:false, z:4,
    data:[[0]],
    renderItem:(params,api)=>{ const a = api.coord([p.range[0],0]), b = api.coord([p.range[1],6000]), c = api.coord([p.range[1],5668]);
      return {type:'group', children:[
        {type:'rect', shape:{x:a[0],y:a[1],width:b[0]-a[0],height:b[1]-a[1]}, style:{fill:'none',stroke:INK,lineWidth:4.5}},
        {type:'text', style:{text:p.name,x:c[0]-10,y:c[1],align:'right',verticalAlign:'middle',font:FS+'px '+FONT,fill:INK}}
      ]}; }});
});
// Colour bar
const cb = panels.length;
const cbBands = bandColors.slice(0,14).map((c,k)=>[k*bandStep,(k+1)*bandStep,k]);
const cbTip = 366.6;
grids.push({left:3766.5, top:372, width:55, height:1065});
xAxes.push({type:'value', gridIndex:cb, min:0, max:1, show:false});
yAxes.push({type:'value', gridIndex:cb, position:'right', min:0, max:350, interval:50, splitLine:{show:false},
  axisLine:{show:true, onZero:false, lineStyle:{color:INK,width:4.5}}, axisTick:{show:true, length:24, lineStyle:tickStyle},
  axisLabel:{fontFamily:FONT, fontSize:FS, color:INK, margin:37, customValues:colorbarTicks},
  name:'{i|C}{s|reg}{n| (µM)}', nameLocation:'middle', nameRotate:90, nameGap:186,
  nameTextStyle:{rich:{i:{fontFamily:FONT,fontSize:FS,fontStyle:'italic',color:INK},
    s:{fontFamily:FONT,fontSize:40,color:INK,verticalAlign:'bottom',lineHeight:88},
    n:{fontFamily:FONT,fontSize:FS,color:INK}}}});
series.push({type:'custom', coordinateSystem:'cartesian2d', xAxisIndex:cb, yAxisIndex:cb, clip:false, silent:true, animation:false, z:2,
  data:cbBands,
  renderItem:(params,api)=>{ const b = cbBands[params.dataIndex], a = api.coord([0,b[1]]), c = api.coord([1,b[0]]);
    return {type:'rect', shape:{x:a[0],y:a[1],width:c[0]-a[0],height:c[1]-a[1]}, style:{fill:bandColors[b[2]]}}; }});
series.push({type:'custom', coordinateSystem:'cartesian2d', xAxisIndex:cb, yAxisIndex:cb, clip:false, silent:true, animation:false, z:3,
  data:[[0]],
  renderItem:(params,api)=>({type:'polygon', shape:{points:[[0,0],[0,350],[0.5,cbTip],[1,350],[1,0]].map(q=>api.coord(q))}, style:{fill:'none',stroke:INK,lineWidth:4.2,lineJoin:'miter'}})});

const RED = '#b31700';
const graphic = [
 {type:'text', x:165.6, y:453, style:{text:'PI',font:'102.6px '+FONT,fill:INK,align:'center',verticalAlign:'middle'}},
 {type:'text', x:204.4, y:1332, style:{text:'RCP8.5',font:'102.6px '+FONT,fill:INK,align:'center',verticalAlign:'middle'}},
 {type:'text', x:201, y:896, style:{text:'+70%',font:'105px '+FONT,fill:RED,align:'center',verticalAlign:'middle'}},
 {type:'arc', shape:{cx:-114.8,cy:902.7,r:494.5,startAngle:-0.754,endAngle:0.571,clockwise:true}, style:{fill:'none',stroke:RED,lineWidth:21,lineCap:'butt'}},
 {type:'polygon', shape:{points:[[271.5,1141.7],[246.4,1229.8],[332.9,1196.6]]}, style:{fill:RED}}
];

const chart = echarts.init(document.getElementById('c'), null, {renderer:'canvas', width:4096, height:1821});
chart.setOption({animation:false, backgroundColor:'#fff', grid:grids, xAxis:xAxes, yAxis:yAxes, series, graphic});
</script></body></html>
